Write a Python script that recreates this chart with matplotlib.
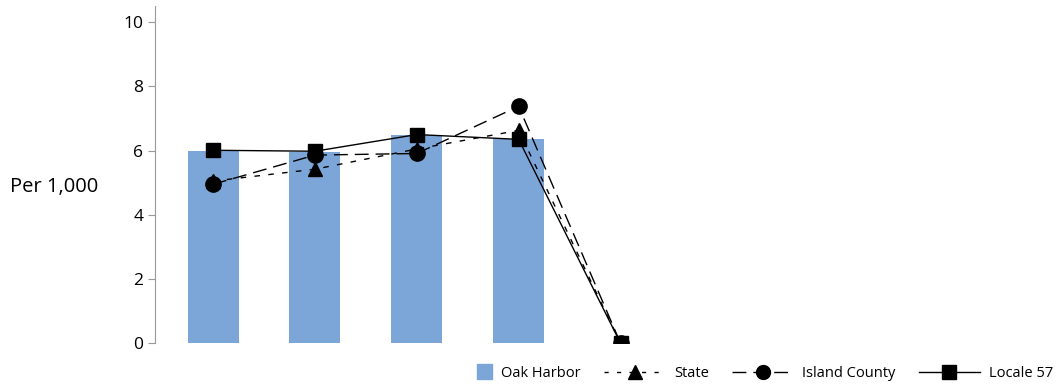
import numpy as np
import matplotlib.pyplot as plt
from matplotlib.lines import Line2D
from matplotlib.patches import Patch, Rectangle
from matplotlib.legend_handler import HandlerPatch

plt.rcParams['font.family'] = ['Open Sans', 'DejaVu Sans']

positions = [1, 2, 3, 4, 5]
oak_harbor = [6.0, 5.96, 6.48, 6.36, 0.0]
state = [5.05, 5.42, 6.05, 6.63, 0.0]
island_county = [4.95, 5.86, 5.91, 7.38, 0.0]
locale_57 = [6.01, 5.98, 6.50, 6.35, 0.0]
yticks = [0, 2, 4, 6, 8, 10]

bar_color = '#7DA6D8'

fig = plt.figure(figsize=(10.63, 3.86), dpi=100)
ax = fig.add_axes([0.1458, 0.111, 0.85, 0.873])

ax.bar(positions, oak_harbor, width=0.5, color=bar_color, zorder=1)
ax.plot(positions, state, color='black', lw=1, dashes=(4, 6), marker='^', ms=10, zorder=3)
ax.plot(positions, island_county, color='black', lw=1, dashes=(10, 5), marker='o', ms=11, zorder=4)
ax.plot(positions, locale_57, color='black', lw=1, marker='s', ms=10, zorder=5)

ax.set_xlim(0.43, 9.3)
ax.set_ylim(0, 10.5)
ax.set_yticks(yticks)
ax.set_xticks([])
ax.tick_params(axis='y', labelsize=12.5, length=5, color='#999999', direction='out')
for s in ['top', 'right', 'bottom']:
    ax.spines[s].set_visible(False)
ax.spines['left'].set_color('#999999')

fig.text(0.051, 0.515, 'Per 1,000', fontsize=14.5, ha='center', va='center')


# small square swatch sitting right next to the label
def square_patch(legend, orig_handle, xdescent, ydescent, width, height, fontsize):
    side = height * 1.5
    return Rectangle((width - side - xdescent, -ydescent + (height - side) / 2), side, side)


handles = [
    Patch(color=bar_color),
    Line2D([], [], color='black', lw=1, dashes=(3, 6), marker='^', ms=10),
    Line2D([], [], color='black', lw=1, dashes=(10, 5), marker='o', ms=10),
    Line2D([], [], color='black', lw=1, marker='s', ms=10),
]
labels = ['Oak Harbor', 'State', 'Island County', 'Locale 57']
fig.legend(handles, labels, loc='center right', bbox_to_anchor=(1.003, 0.033), ncol=4,
           frameon=False, fontsize=10.5, handlelength=4.2, handletextpad=0.6, columnspacing=1.6,
           handler_map={Patch: HandlerPatch(patch_func=square_patch)})

fig.savefig('out.png', dpi=100)
